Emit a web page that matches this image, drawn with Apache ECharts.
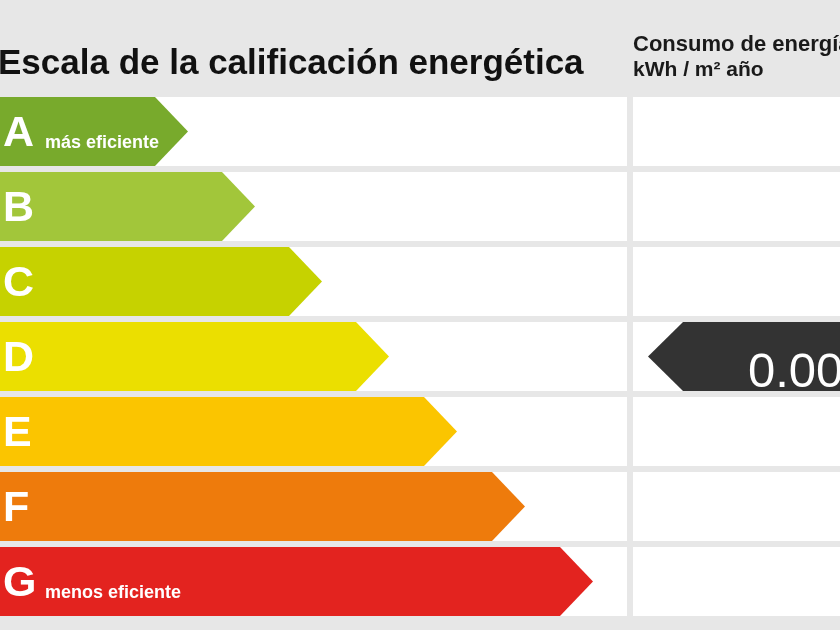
<!DOCTYPE html>
<html>
<head>
<meta charset="utf-8">
<script src="https://cdn.jsdelivr.net/npm/echarts@6/dist/echarts.min.js"></script>
<style>
html,body{margin:0;padding:0;background:#e7e7e7;}
#chart{width:840px;height:630px;}
</style>
</head>
<body>
<div id="chart"></div>
<script>
// ---- data ----
const titleText = 'Escala de la calificación energética';
const columnHeader = ['Consumo de energía', 'kWh / m² año'];
const categories = ['A', 'B', 'C', 'D', 'E', 'F', 'G'];
const arrowLengths = [188, 255, 322, 389, 457, 525, 593];
const subLabels = ['más eficiente', '', '', '', '', '', 'menos eficiente'];
const ratingCategory = 'D';
const ratingValue = '0.00';
const ratingStart = 648;

// ---- styles ----
const bandColors = ['#78aa2c', '#a2c63a', '#c6d200', '#ebdf00', '#fbc500', '#ee7b0c', '#e3231f'];
const AXIS_MAX = 840;
const COL_SPLIT = 627;
const COL_GAP = 6;
const ROW_GAP = 6;
const TIP = 33;

const chart = echarts.init(document.getElementById('chart'));

const cellData = categories.map((c, i) => [0, i]);
const arrowData = categories.map((c, i) => [arrowLengths[i], i]);
const ratingData = [[ratingStart, categories.indexOf(ratingCategory), ratingValue]];

chart.setOption({
  backgroundColor: '#e7e7e7',
  animation: false,
  grid: { left: 0, right: 0, top: 94, height: 525 },
  xAxis: { type: 'value', min: 0, max: AXIS_MAX, show: false },
  yAxis: { type: 'category', data: categories, inverse: true, show: false },
  graphic: [
    { type: 'text', left: -2, top: 47,
      style: { text: titleText, fill: '#111', font: 'bold 35px "Liberation Sans", Arial, sans-serif' } },
    { type: 'text', left: 633, top: 34,
      style: { text: columnHeader[0], fill: '#1a1a1a', font: 'bold 22px "Liberation Sans", Arial, sans-serif' } },
    { type: 'text', left: 633, top: 60,
      style: { text: columnHeader[1], fill: '#1a1a1a', font: 'bold 21px "Liberation Sans", Arial, sans-serif' } }
  ],
  series: [
    {
      type: 'custom', name: 'cells', data: cellData, silent: true, z: 1,
      renderItem: function (params, api) {
        const cy = api.coord([0, api.value(1)])[1];
        const h = api.size([0, 1])[1] - ROW_GAP;
        const xs = api.coord([COL_SPLIT, 0])[0];
        const xe = api.coord([AXIS_MAX, 0])[0];
        return { type: 'group', children: [
          { type: 'rect', shape: { x: 0, y: cy - h / 2, width: xs, height: h }, style: { fill: '#ffffff' } },
          { type: 'rect', shape: { x: xs + COL_GAP, y: cy - h / 2, width: xe - xs - COL_GAP, height: h }, style: { fill: '#ffffff' } }
        ]};
      }
    },
    {
      type: 'custom', name: 'arrows', data: arrowData, silent: true, z: 2,
      renderItem: function (params, api) {
        const idx = api.value(1);
        const p = api.coord([api.value(0), idx]);
        const x0 = api.coord([0, idx])[0];
        const h = api.size([0, 1])[1] - ROW_GAP;
        const top = p[1] - h / 2, bot = p[1] + h / 2;
        const children = [
          { type: 'polygon',
            shape: { points: [[x0, top], [p[0] - TIP, top], [p[0], p[1]], [p[0] - TIP, bot], [x0, bot]] },
            style: { fill: bandColors[idx] } },
          { type: 'text',
            style: { text: categories[idx], x: x0 + 3, y: p[1] + 3, fill: '#ffffff',
              font: 'bold 43px "Liberation Sans", Arial, sans-serif', verticalAlign: 'middle', align: 'left' } }
        ];
        if (subLabels[idx]) {
          children.push({ type: 'text',
            style: { text: subLabels[idx], x: x0 + 45, y: p[1] + 12, fill: '#ffffff',
              font: 'bold 18px "Liberation Sans Narrow", "Arial Narrow", sans-serif', verticalAlign: 'middle', align: 'left' } });
        }
        return { type: 'group', children: children };
      }
    },
    {
      type: 'custom', name: 'rating', data: ratingData, silent: true, z: 3,
      renderItem: function (params, api) {
        const idx = api.value(1);
        const p = api.coord([api.value(0), idx]);
        const xe = api.coord([AXIS_MAX, idx])[0] + 10;
        const h = api.size([0, 1])[1] - ROW_GAP;
        const top = p[1] - h / 2, bot = p[1] + h / 2;
        return { type: 'group', children: [
          { type: 'polygon',
            shape: { points: [[p[0], p[1]], [p[0] + 35, top], [xe, top], [xe, bot], [p[0] + 35, bot]] },
            style: { fill: '#333333' } },
          { type: 'text',
            style: { text: ratingData[0][2], x: p[0] + 100, y: p[1] + 17, fill: '#ffffff',
              font: '49px "Liberation Sans", Arial, sans-serif', verticalAlign: 'middle', align: 'left' } }
        ]};
      }
    }
  ]
});
</script>
</body>
</html>
